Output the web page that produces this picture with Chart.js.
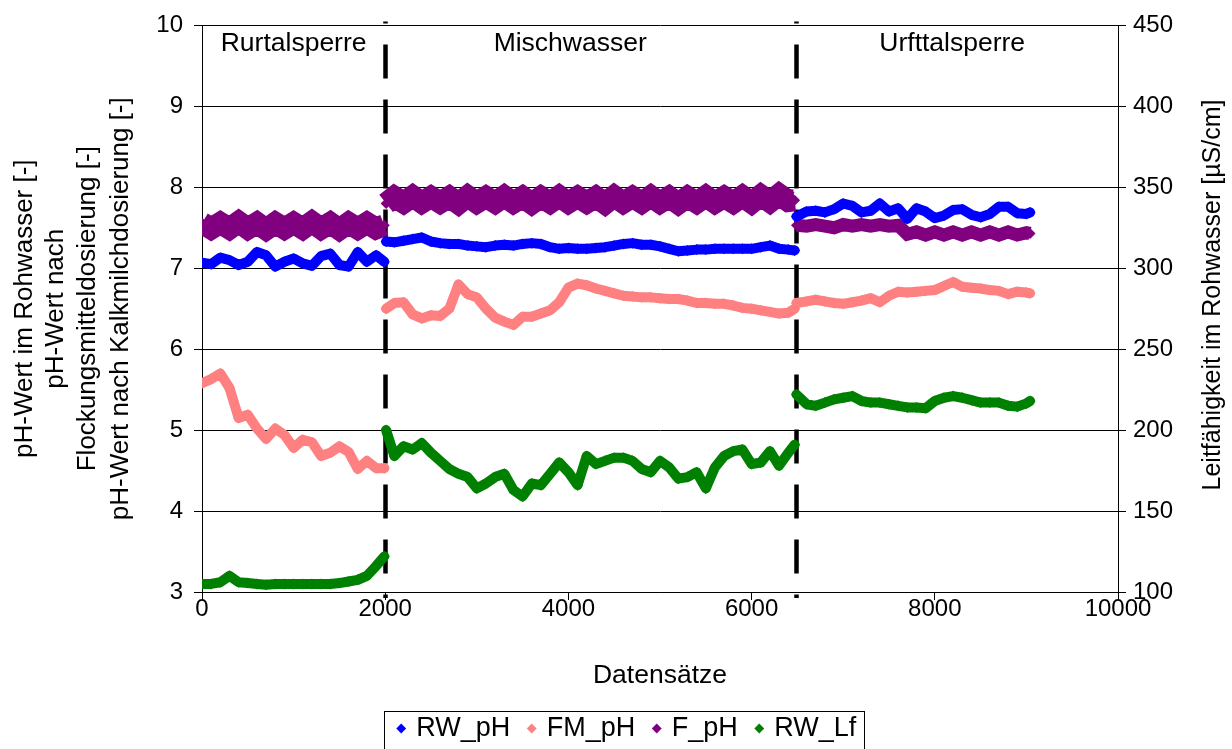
<!DOCTYPE html>
<html><head><meta charset="utf-8">
<script src="https://cdn.jsdelivr.net/npm/chart.js@4.4.1/dist/chart.umd.min.js"></script>
<style>html,body{margin:0;padding:0;background:#fff;}canvas{display:block;}</style>
</head><body>
<canvas id="c" width="1232" height="749"></canvas>
<script>
// x positions (Datensätze) per section
const xRurtal = [0,100,200,300,400,500,600,700,800,900,1000,1100,1200,1300,1400,1500,1600,1700,1800,1900,1990];
const xMisch = [2010,2100,2200,2300,2400,2500,2600,2700,2800,2900,3000,3100,3200,3300,3400,3500,3600,3700,3800,3900,4000,4100,4200,4300,4400,4500,4600,4700,4800,4900,5000,5100,5200,5300,5400,5500,5600,5700,5800,5900,6000,6100,6200,6300,6400,6470];
const xUrft = [6490,6600,6700,6800,6900,7000,7100,7200,7300,7400,7500,7600,7700,7800,7900,8000,8100,8200,8300,8400,8500,8600,8700,8800,8900,9000,9040];

// RW_pH
const rwPhRurtal = [7.07,7.05,7.13,7.10,7.04,7.08,7.20,7.16,7.02,7.08,7.12,7.06,7.03,7.15,7.18,7.04,7.02,7.20,7.08,7.16,7.08];
const rwPhMisch = [7.33,7.32,7.34,7.36,7.38,7.33,7.31,7.30,7.30,7.28,7.27,7.26,7.28,7.29,7.28,7.30,7.31,7.30,7.26,7.24,7.25,7.24,7.24,7.25,7.26,7.28,7.30,7.31,7.29,7.29,7.27,7.24,7.21,7.22,7.23,7.23,7.24,7.24,7.24,7.24,7.24,7.26,7.28,7.24,7.23,7.22];
const rwPhUrft = [7.64,7.70,7.71,7.69,7.73,7.80,7.77,7.69,7.71,7.80,7.70,7.74,7.61,7.74,7.70,7.62,7.65,7.72,7.73,7.66,7.63,7.67,7.76,7.76,7.68,7.67,7.69];

// FM_pH
const fmPhRurtal = [5.58,5.63,5.70,5.52,5.15,5.19,5.02,4.89,5.02,4.94,4.78,4.88,4.85,4.68,4.72,4.80,4.73,4.52,4.62,4.53,4.53];
const fmPhMisch = [6.50,6.57,6.58,6.43,6.38,6.42,6.41,6.50,6.80,6.68,6.64,6.50,6.39,6.34,6.30,6.40,6.40,6.44,6.48,6.58,6.76,6.81,6.79,6.75,6.72,6.69,6.66,6.65,6.64,6.64,6.63,6.62,6.62,6.60,6.57,6.57,6.56,6.56,6.54,6.51,6.50,6.48,6.46,6.44,6.45,6.50];
const fmPhUrft = [6.57,6.59,6.61,6.59,6.57,6.56,6.58,6.60,6.63,6.58,6.66,6.71,6.70,6.71,6.72,6.73,6.78,6.83,6.77,6.76,6.75,6.73,6.72,6.68,6.71,6.70,6.69];

// F_pH
const fPhRurtal = [7.56,7.49,7.56,7.49,7.57,7.49,7.56,7.48,7.56,7.49,7.56,7.49,7.57,7.49,7.56,7.48,7.56,7.49,7.56,7.49,7.53];
const fPhMisch = [7.80,7.88,7.81,7.89,7.81,7.88,7.81,7.88,7.80,7.89,7.81,7.88,7.81,7.89,7.81,7.88,7.80,7.88,7.81,7.89,7.81,7.88,7.81,7.88,7.80,7.89,7.81,7.88,7.81,7.89,7.81,7.88,7.80,7.88,7.81,7.89,7.81,7.88,7.81,7.89,7.81,7.90,7.82,7.91,7.83,7.84];
const fPhUrft = [7.53,7.52,7.54,7.52,7.50,7.54,7.52,7.54,7.52,7.54,7.52,7.53,7.42,7.45,7.41,7.45,7.41,7.45,7.41,7.45,7.41,7.45,7.41,7.45,7.41,7.44,7.43];

// RW_Lf (µS/cm)
const lfRurtal = [105,105,106,110,106,105.5,105,104.5,105,105,105,105,105,105,105,105.5,106.5,107.5,110,116,122];
const lfMisch = [200,184,190,188,192,186,181,176,173,171,164,167,171,173,163,159,167,166,173,180,174,166,184,179,181,183,183,181,176,174,181,177,170,171,174,164,177,184,187,188,179,180,187,178,186,191];
const lfUrft = [222,216,215,217,219,220,221,218,217,217,216,215,214,214,213.5,218,220,221,220,218.5,217,217,217,215,214.5,216.5,218];

const grenzen = [2000, 6480];
const bereiche = ['Rurtalsperre', 'Mischwasser', 'Urfttalsperre'];
const bereichMitte = [1000, 4020, 8190];
const titelLinks = ['pH-Wert im Rohwasser [-]', 'pH-Wert nach', 'Flockungsmitteldosierung [-]', 'pH-Wert nach Kalkmilchdosierung [-]'];
const titelRechts = 'Leitfähigkeit im Rohwasser [µS/cm]';
const titelX = 'Datensätze';

function reihe(r, m, u) {
  const p = (xs, ys) => xs.map((x, i) => ({x: x, y: ys[i]}));
  return [...p(xRurtal, r), {x: grenzen[0], y: null}, ...p(xMisch, m), {x: grenzen[1], y: null}, ...p(xUrft, u)];
}

const FONT = '"Liberation Sans", Arial, sans-serif';
Chart.defaults.font.family = FONT;
Chart.defaults.color = '#000';

function ds(label, data, color, axis, width) {
  return {
    label, data, yAxisID: axis,
    borderColor: color, backgroundColor: color,
    pointBackgroundColor: color, pointBorderColor: color, pointBorderWidth: 0,
    pointStyle: 'rectRot', pointRadius: 5.5, pointHoverRadius: 5.5,
    borderWidth: width || 10, borderJoinStyle: 'round', borderCapStyle: 'round',
    showLine: true, spanGaps: false, tension: 0
  };
}

const fPhSet = ds('F_pH', reihe(fPhRurtal, fPhMisch, fPhUrft), '#800080', 'y', 22);
fPhSet.borderJoinStyle = 'miter';
fPhSet.borderCapStyle = 'butt';
fPhSet.segment = {borderWidth: c => (c.p0.parsed.x >= grenzen[1] ? 13 : 22)};

const deko = {
  id: 'deko',
  afterLayout(chart) {
    if (chart.legend) { chart.legend.left += 12; chart.legend.right += 12; }
  },
  beforeDatasetsDraw(chart) {
    const {ctx, chartArea} = chart;
    const x = chart.scales.x;
    ctx.save();
    ctx.strokeStyle = '#000';
    ctx.lineWidth = 4.5;
    ctx.setLineDash([34, 21]);
    ctx.lineDashOffset = 32;
    grenzen.forEach(g => {
      const px = Math.round(x.getPixelForValue(g)) + 0.5;
      ctx.beginPath();
      ctx.moveTo(px, chartArea.top - 4);
      ctx.lineTo(px, chartArea.bottom + 6);
      ctx.stroke();
    });
    ctx.restore();
  },
  afterDraw(chart) {
    const {ctx, chartArea} = chart;
    const x = chart.scales.x;
    ctx.save();
    ctx.fillStyle = '#000';
    ctx.font = '26.5px ' + FONT;
    ctx.textAlign = 'center';
    ctx.textBaseline = 'alphabetic';
    bereiche.forEach((b, i) => ctx.fillText(b, x.getPixelForValue(bereichMitte[i]), chartArea.top + 26));
    ctx.fillText(titelX, (chartArea.left + chartArea.right) / 2, 683);
    const cy = (chartArea.top + chartArea.bottom) / 2;
    ctx.textBaseline = 'middle';
    ctx.font = '26px ' + FONT;
    const xs = [25, 56, 88, 121];
    titelLinks.forEach((t, i) => {
      ctx.save();
      ctx.translate(xs[i], cy);
      ctx.rotate(-Math.PI / 2);
      ctx.fillText(t, 0, 0);
      ctx.restore();
    });
    ctx.font = '25px ' + FONT;
    ctx.save();
    ctx.translate(1213, 295);
    ctx.rotate(-Math.PI / 2);
    ctx.fillText(titelRechts, 0, 0);
    ctx.restore();
    const hb = chart.legend.legendHitBoxes;
    if (hb && hb.length) {
      const l = Math.min(...hb.map(h => h.left)) - 16;
      const r = Math.max(...hb.map(h => h.left + h.width)) + 7;
      const t = hb[0].top - 4;
      ctx.strokeStyle = '#000';
      ctx.lineWidth = 1;
      ctx.strokeRect(Math.round(l) + 0.5, Math.round(t) + 0.5, Math.round(r - l), 60);
    }
    ctx.restore();
  }
};

new Chart(document.getElementById('c'), {
  type: 'scatter',
  data: {
    datasets: [
      ds('RW_pH', reihe(rwPhRurtal, rwPhMisch, rwPhUrft), '#0000FF', 'y'),
      ds('FM_pH', reihe(fmPhRurtal, fmPhMisch, fmPhUrft), '#FF8080', 'y'),
      fPhSet,
      ds('RW_Lf', reihe(lfRurtal, lfMisch, lfUrft), '#008000', 'y1')
    ]
  },
  options: {
    responsive: false,
    animation: false,
    layout: {padding: {top: 22, left: 0, right: 0, bottom: -3}},
    plugins: {
      legend: {
        position: 'bottom',
        labels: {usePointStyle: true, boxWidth: 3, boxHeight: 7, padding: 20, color: '#000', font: {size: 27, family: FONT}}
      },
      tooltip: {enabled: false}
    },
    scales: {
      x: {
        type: 'linear', position: 'bottom', min: 0, max: 10000,
        ticks: {stepSize: 2000, callback: v => String(v), color: '#000', font: {size: 24}, padding: -5, maxRotation: 0},
        grid: {drawOnChartArea: false, drawTicks: true, tickLength: 8, color: '#000'},
        border: {color: '#000', width: 1},
        afterFit(s) { s.height = 103; }
      },
      y: {
        position: 'left', min: 3, max: 10,
        ticks: {stepSize: 1, color: '#000', font: {size: 24}, padding: 11},
        grid: {color: '#000', tickLength: 8},
        border: {color: '#000', width: 1},
        afterFit(s) { s.width = 202; }
      },
      y1: {
        position: 'right', min: 100, max: 450,
        ticks: {stepSize: 50, color: '#000', font: {size: 24}, padding: 7},
        grid: {drawOnChartArea: false, tickLength: 8, color: '#000'},
        border: {color: '#000', width: 1},
        afterFit(s) { s.width = 114; }
      }
    }
  },
  plugins: [deko]
});
</script>
</body></html>
